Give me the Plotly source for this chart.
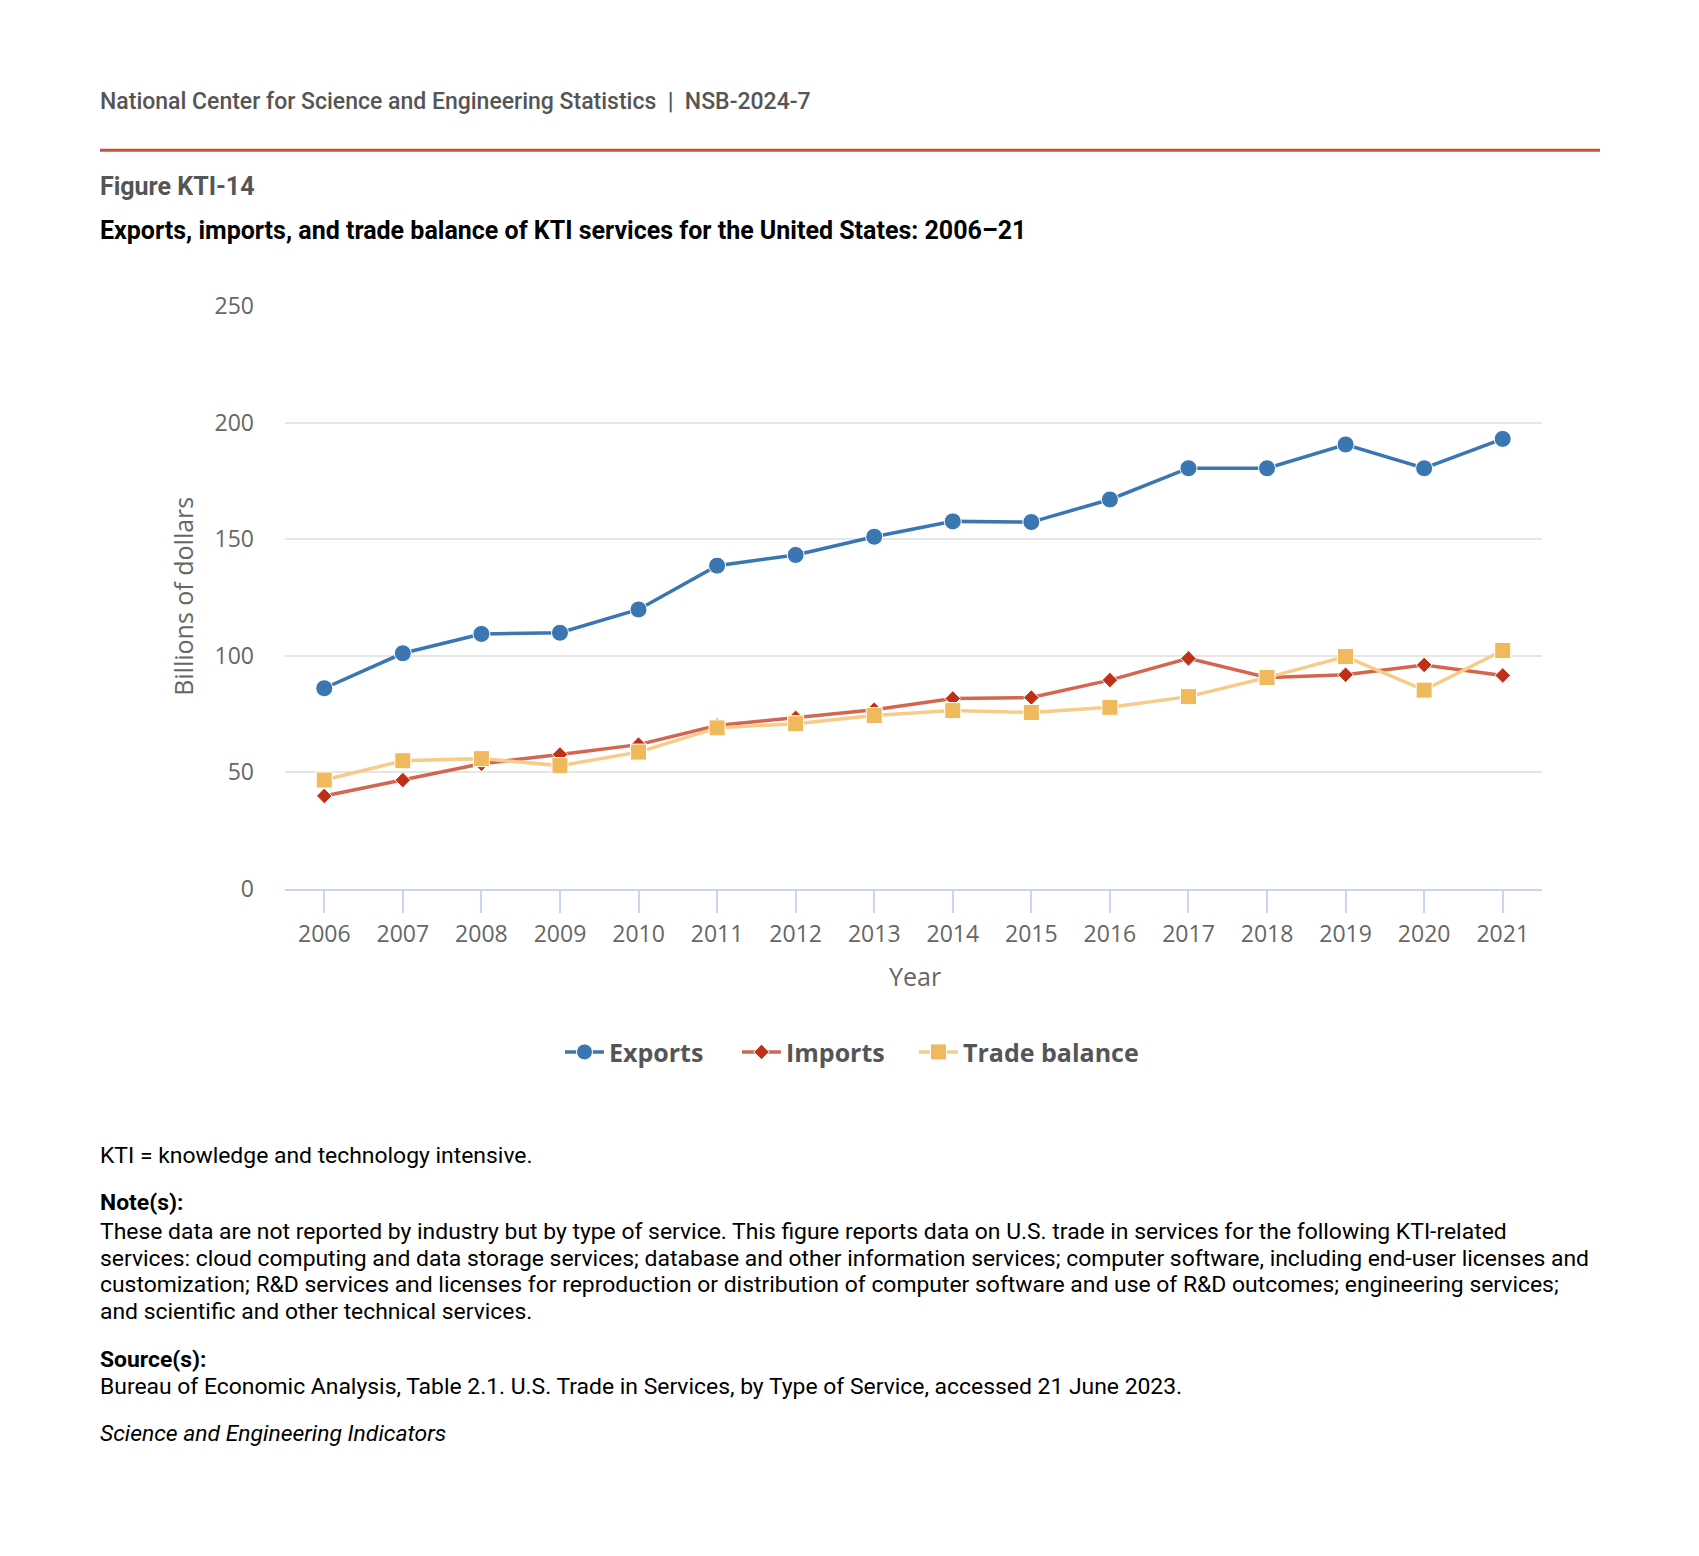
import plotly.graph_objects as go

# ---------------- data ----------------
years = ["2006", "2007", "2008", "2009", "2010", "2011", "2012", "2013",
         "2014", "2015", "2016", "2017", "2018", "2019", "2020", "2021"]
exports = [86.0, 101.0, 109.3, 109.8, 119.8, 138.6, 143.2, 151.0,
           157.6, 157.3, 167.0, 180.4, 180.4, 190.6, 180.4, 193.0]
imports = [39.8, 46.6, 53.6, 57.6, 61.8, 70.0, 73.3, 76.8,
           81.6, 82.0, 89.5, 98.8, 90.6, 91.8, 96.0, 91.5]
trade_balance = [46.6, 54.9, 55.8, 52.8, 58.6, 69.0, 70.8, 74.3,
                 76.4, 75.6, 77.8, 82.4, 90.6, 99.6, 85.2, 102.2]
y_ticks = [0, 50, 100, 150, 200, 250]
series_names = ["Exports", "Imports", "Trade balance"]

header = "National Center for Science and Engineering Statistics\u00a0\u00a0|\u00a0\u00a0NSB-2024-7"
figure_label = "Figure KTI-14"
title = "Exports, imports, and trade balance of KTI services for the United States: 2006\u201321"
abbrev = "KTI = knowledge and technology intensive."
note_head = "Note(s):"
note_lines = [
    "These data are not reported by industry but by type of service. This figure reports data on U.S. trade in services for the following KTI-related",
    "services: cloud computing and data storage services; database and other information services; computer software, including end-user licenses and",
    "customization; R&amp;D services and licenses for reproduction or distribution of computer software and use of R&amp;D outcomes; engineering services;",
    "and scientific and other technical services.",
]
source_head = "Source(s):"
source_line = "Bureau of Economic Analysis, Table 2.1. U.S. Trade in Services, by Type of Service, accessed 21 June 2023."
footer = "Science and Engineering Indicators"

# ---------------- geometry helpers (page pixels -> paper) ----------------
OFF = 8
FW, FH = 1683, 1540


def px(x):
    return (x - OFF) / FW


def py(y):
    return 1 - (y - OFF) / FH


TICK_FONT = dict(family="Open Sans", size=23, color="#666666")

fig = go.Figure()
fig.add_trace(go.Scatter(
    x=years, y=exports, name=series_names[0], mode="lines+markers",
    line=dict(color="#3a76b1", width=3.5),
    marker=dict(symbol="circle", size=17, color="#3a76b1",
                line=dict(color="#ffffff", width=1)),
))
fig.add_trace(go.Scatter(
    x=years, y=imports, name=series_names[1], mode="lines+markers",
    line=dict(color="#d3664f", width=3.5),
    marker=dict(symbol="diamond", size=12, color="#bf3016",
                line=dict(color="#ffffff", width=1)),
))
fig.add_trace(go.Scatter(
    x=years, y=trade_balance, name=series_names[2], mode="lines+markers",
    line=dict(color="#f6cc88", width=3.5), legendwidth=200,
    marker=dict(symbol="square", size=16, color="#f0b95c",
                line=dict(color="#ffffff", width=1)),
))

annotations = []
TX = 98


def add_text(text, x, y, size=22.9, color="#000000", family="Roboto", **kw):
    annotations.append(dict(
        text=text, x=px(x), y=py(y), xref="paper", yref="paper",
        xanchor=kw.pop("xanchor", "left"), yanchor=kw.pop("yanchor", "middle"),
        showarrow=False,
        font=dict(family=family, size=size, color=color, weight=kw.pop("weight", "normal")),
        **kw))


add_text(header, TX, 86, size=23, color="#555555", weight=500)
add_text("<b>" + figure_label + "</b>", TX, 173, size=25, color="#555555")
add_text("<b>" + title + "</b>", TX, 218, size=25, color="#000000")
add_text("Billions of dollars", 183, 592, size=25, color="#666666",
         family="Open Sans", xanchor="center", textangle=-90)
add_text("Year", 915, 979, size=25, color="#666666", family="Open Sans",
         xanchor="center")
add_text(abbrev, TX, 1162)
add_text("<b>" + note_head + "</b>", TX, 1210)
for i, line in enumerate(note_lines):
    add_text(line, TX, 1240 + i * 27.2)
add_text("<b>" + source_head + "</b>", TX, 1371)
add_text(source_line, TX, 1398)
add_text("<i>" + footer + "</i>", TX, 1446)

fig.update_layout(
    width=FW, height=FH,
    margin=dict(l=0, r=0, t=0, b=0),
    paper_bgcolor="#ffffff", plot_bgcolor="#ffffff",
    showlegend=True,
    legend=dict(
        orientation="h", x=px(560), xanchor="left", y=py(1057), yanchor="middle",
        font=dict(family="Open Sans", size=25, color="#555555", weight="bold"),
        bgcolor="rgba(0,0,0,0)", entrywidth=123, entrywidthmode="pixels",
        itemwidth=39,
    ),
    xaxis=dict(
        domain=[px(285), px(1542)], type="category", range=[-0.5, 15.5],
        showline=True, linecolor="#ccd6eb", linewidth=2,
        ticks="outside", ticklen=22, tickcolor="#ccd6eb", tickwidth=1.5,
        showgrid=False, zeroline=False, tickfont=TICK_FONT,
        ticklabelstandoff=2,
    ),
    yaxis=dict(
        domain=[py(890), py(295)], range=[0, 250], tickvals=y_ticks,
        showgrid=True, gridcolor="#e6e6e6", gridwidth=1.5, zeroline=False,
        showline=False, ticks="", tickfont=TICK_FONT, ticklabelstandoff=30,
    ),
    shapes=[dict(type="line", xref="paper", yref="paper",
                 x0=px(100), x1=px(1600), y0=py(136), y1=py(136),
                 line=dict(color="#cd503c", width=3))],
    annotations=annotations,
    hovermode=False,
)

fig.write_html("out.html")
